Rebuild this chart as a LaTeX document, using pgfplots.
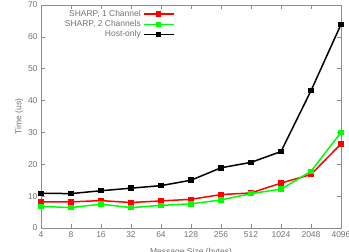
\documentclass[border=0pt]{standalone}
\usepackage{pgfplots}
\pgfplotsset{compat=1.18}
\usepackage{fontspec}
\setmainfont{Liberation Sans}
\definecolor{txt}{gray}{0.45}
\definecolor{ax}{gray}{0.55}
\definecolor{gr}{rgb}{0,1,0}
\begin{document}
\begin{tikzpicture}
\begin{axis}[
  scale only axis,
  width=300pt, height=223pt,
  xmin=0, xmax=10, ymin=0, ymax=70,
  xtick={0,...,10},
  xticklabels={4,8,16,32,64,128,256,512,1024,2048,4096},
  ytick={0,10,...,70},
  tick align=inside,
  major tick length=4pt,
  axis line style={ax, line width=0.8pt},
  tick style={ax, line width=0.6pt},
  ticklabel style={font=\fontsize{8.5}{10}\selectfont, text=txt},
  /pgf/number format/assume math mode=true,
  xlabel={Message Size (bytes)},
  ylabel={Time (us)},
  label style={font=\fontsize{8.5}{10}\selectfont, text=txt},
  xlabel style={yshift=-4pt},
  ylabel style={yshift=-2pt},
  legend style={draw=none, fill=none, at={(0.455,0.995)}, anchor=north east,
    font=\fontsize{8.5}{10}\selectfont, text=txt, row sep=-1.5pt,
    cells={anchor=east}},
  legend plot pos=right,
  legend image code/.code={\draw[mark repeat=2,mark phase=2,line width=1.5pt]
     plot coordinates {(0pt,0pt)(15pt,0pt)(30pt,0pt)};},
  every axis plot/.append style={line width=1.5pt, mark=square*, mark size=2pt},
]
\addplot[red, mark options={fill=red}] coordinates {
(0,8.2)(1,8.2)(2,8.6)(3,8.0)(4,8.5)(5,9.0)(6,10.5)(7,11.0)(8,14.1)(9,16.8)(10,26.4)};
\addlegendentry{SHARP, 1 Channel}
\addplot[gr, mark options={fill=gr}] coordinates {
(0,6.8)(1,6.4)(2,7.5)(3,6.4)(4,7.1)(5,7.6)(6,8.8)(7,10.8)(8,12.2)(9,17.8)(10,30.0)};
\addlegendentry{SHARP, 2 Channels}
\addplot[black, mark options={fill=black}] coordinates {
(0,10.9)(1,10.8)(2,11.7)(3,12.5)(4,13.3)(5,15.0)(6,18.9)(7,20.6)(8,24.0)(9,43.1)(10,63.9)};
\addlegendentry{Host-only}
\end{axis}
\pgfresetboundingbox
\useasboundingbox ([xshift=-41pt,yshift=-24pt]current axis.origin) rectangle ++(349pt,252pt);
\end{tikzpicture}
\end{document}
